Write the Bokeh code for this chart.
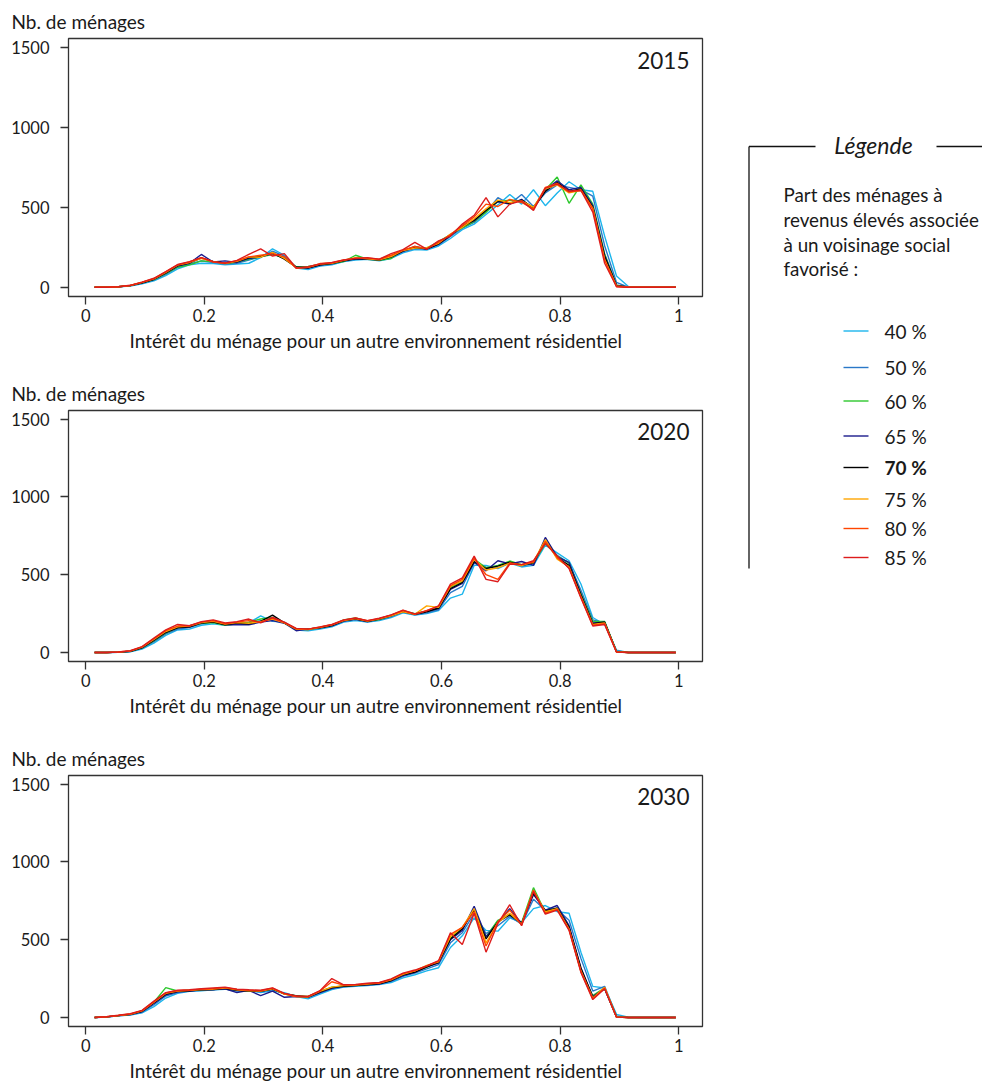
from bokeh.plotting import figure
from bokeh.layouts import row, column
from bokeh.models import Range1d, Title, Label, FixedTicker
from bokeh.core.properties import value
from bokeh.embed import file_html
from bokeh.resources import INLINE

FONT = "Lato"

# ---------------- data ----------------
x = [0.015, 0.035, 0.055, 0.075, 0.095, 0.115, 0.135, 0.155, 0.175, 0.195,
     0.215, 0.235, 0.255, 0.275, 0.295, 0.315, 0.335, 0.355, 0.375, 0.395,
     0.415, 0.435, 0.455, 0.475, 0.495, 0.515, 0.535, 0.555, 0.575, 0.595,
     0.615, 0.635, 0.655, 0.675, 0.695, 0.715, 0.735, 0.755, 0.775, 0.795,
     0.815, 0.835, 0.855, 0.875, 0.895, 0.915, 0.935, 0.955, 0.975, 0.995]

series_labels = ["40 %", "50 %", "60 %", "65 %", "70 %", "75 %", "80 %", "85 %"]
series_colors = ["#1CB5EC", "#2A78C8", "#2DC82D", "#1A1A8C", "#000000", "#FFA500", "#FF4500", "#DD1C1C"]

years = ["2015", "2020", "2030"]

# 2015
y2015_40 = [0,0,2,8,22,40,72,115,140,150, 148,140,145,150,185,240,200,120,110,132,
            140,160,170,175,165,180,215,235,232,258, 305,360,395,455,515,580,520,610,510,590,
            660,610,600,320,70,4,0,0,0,0]
y2015_50 = [0,0,2,9,25,45,80,125,145,165, 155,145,150,170,190,225,195,122,118,135,
            145,162,175,178,168,185,222,242,238,265, 318,370,405,470,560,520,580,505,590,640,
            625,610,570,260,30,0,0,0,0,0]
y2015_60 = [0,0,3,10,27,48,85,125,140,165, 160,148,158,175,190,205,185,128,130,142,
            150,160,200,175,168,180,232,250,245,285, 330,372,410,470,535,545,540,500,610,690,
            525,640,520,210,12,0,0,0,0,0]
y2015_65 = [0,0,3,10,28,50,88,132,150,205, 158,165,155,180,190,210,180,125,120,140,
            150,168,180,175,172,188,225,255,238,270, 322,385,415,485,535,520,550,490,610,665,
            610,625,510,200,12,0,0,0,0,0]
y2015_70 = [0,0,3,10,28,50,90,135,152,182, 162,150,160,185,192,215,175,125,122,140,
            148,165,178,180,170,190,228,248,240,272, 325,378,420,480,540,525,545,495,600,655,
            600,615,500,190,10,0,0,0,0,0]
y2015_75 = [0,0,3,11,30,52,93,138,155,180, 160,148,162,190,188,218,180,122,124,145,
            150,168,185,178,172,192,230,245,248,275, 332,375,428,490,545,530,540,500,615,640,
            590,605,495,175,8,0,0,0,0,0]
y2015_80 = [0,0,3,11,31,54,96,140,158,185, 158,152,165,190,200,210,190,118,125,148,
            152,170,182,182,175,200,232,255,240,280, 330,385,440,520,505,550,530,490,625,650,
            595,610,490,170,5,0,0,0,0,0]
y2015_85 = [0,0,3,12,32,56,98,142,160,185, 160,150,168,205,240,195,210,120,128,145,
            155,170,180,185,175,210,235,280,238,290, 320,395,450,560,440,520,540,480,620,645,
            600,605,470,150,3,0,0,0,0,0]

# 2020
y2020_40 = [0,0,1,5,22,60,110,145,150,175, 185,175,185,190,235,200,195,145,140,150,
            165,195,205,195,205,225,255,240,250,270, 350,375,560,560,540,575,550,560,690,640,
            590,440,225,180,15,0,0,0,0,0]
y2020_50 = [0,0,1,6,26,70,120,150,160,185, 198,178,188,190,205,210,192,148,145,155,
            170,200,210,198,210,230,260,242,255,275, 385,425,575,548,545,578,555,570,705,625,
            575,400,210,190,10,0,0,0,0,0]
y2020_60 = [0,0,2,7,28,75,125,158,170,188, 192,175,185,195,215,225,188,150,148,158,
            172,210,222,202,212,238,268,250,265,290, 420,455,600,545,560,588,565,575,700,620,
            575,380,200,200,6,0,0,0,0,0]
y2020_65 = [0,0,2,8,30,78,128,158,165,192, 198,178,180,178,195,205,188,140,152,158,
            172,202,218,198,218,240,262,248,265,282, 405,445,580,525,590,570,585,560,740,615,
            580,375,190,195,5,0,0,0,0,0]
y2020_70 = [0,0,2,8,32,80,130,160,165,190, 195,180,190,185,200,240,190,150,150,160,
            175,205,215,200,215,235,265,245,262,285, 410,450,585,540,555,580,560,578,720,610,
            560,370,185,195,5,0,0,0,0,0]
y2020_75 = [0,0,2,9,34,84,135,165,170,192, 200,182,192,188,198,215,190,150,148,162,
            178,205,218,202,216,236,262,246,300,290, 425,460,600,530,545,575,558,585,725,600,
            550,360,180,190,4,0,0,0,0,0]
y2020_80 = [0,0,3,10,36,88,140,170,172,195, 205,185,195,205,195,220,192,152,150,162,
            178,208,220,204,218,240,270,245,270,298, 430,470,605,500,470,575,565,580,715,610,
            545,355,175,185,3,0,0,0,0,0]
y2020_85 = [0,0,3,11,38,92,145,180,172,198, 210,190,198,215,190,225,195,155,150,165,
            180,210,222,205,220,242,272,248,268,300, 440,480,620,470,455,568,565,590,700,620,
            540,350,170,180,2,0,0,0,0,0]

# 2030
y2030_40 = [0,3,10,15,30,70,125,155,168,172, 178,182,172,175,160,170,160,135,120,150,
            180,195,200,205,212,225,255,275,300,320, 450,525,640,560,555,640,610,700,720,680,
            670,420,200,190,20,2,0,0,0,0]
y2030_50 = [0,3,11,17,34,82,138,160,170,175, 178,185,170,172,165,178,155,138,128,158,
            185,198,205,208,215,232,265,285,312,340, 480,545,670,540,590,650,600,760,690,695,
            625,380,170,200,10,0,0,0,0,0]
y2030_60 = [0,4,12,20,42,98,192,170,175,180, 182,190,178,172,172,185,150,140,135,168,
            195,202,208,215,220,240,278,295,322,360, 510,575,695,520,625,665,610,835,675,700,
            575,300,140,190,4,0,0,0,0,0]
y2030_65 = [0,4,12,19,38,90,145,165,170,178, 180,185,160,175,140,170,130,135,130,160,
            188,205,210,210,215,235,270,290,325,350, 500,560,715,520,610,700,605,790,690,720,
            590,320,135,185,4,0,0,0,0,0]
y2030_70 = [0,4,12,20,40,95,150,168,172,178, 180,188,175,170,168,182,152,138,132,165,
            192,200,205,212,218,238,275,292,325,355, 505,570,690,505,615,660,605,800,685,705,
            580,315,130,185,3,0,0,0,0,0]
y2030_75 = [0,4,13,21,42,98,155,170,175,180, 182,190,178,172,170,185,150,135,132,168,
            195,205,208,215,222,242,278,300,335,358, 520,580,700,480,610,670,600,815,680,700,
            570,300,125,195,3,0,0,0,0,0]
y2030_80 = [0,5,13,22,44,100,158,172,175,182, 185,192,180,175,172,188,152,135,135,170,
            230,208,210,218,222,245,282,300,330,362, 535,580,680,460,615,690,595,820,670,695,
            565,295,120,190,2,0,0,0,0,0]
y2030_85 = [0,5,14,24,46,105,160,175,178,185, 190,195,182,178,175,190,155,138,135,172,
            250,210,212,220,225,248,285,305,332,365, 545,470,670,420,605,725,590,810,665,690,
            560,290,115,185,2,0,0,0,0,0]

panels = {
    "2015": [y2015_40, y2015_50, y2015_60, y2015_65, y2015_70, y2015_75, y2015_80, y2015_85],
    "2020": [y2020_40, y2020_50, y2020_60, y2020_65, y2020_70, y2020_75, y2020_80, y2020_85],
    "2030": [y2030_40, y2030_50, y2030_60, y2030_65, y2030_70, y2030_75, y2030_80, y2030_85],
}

x_ticks = [0, 0.2, 0.4, 0.6, 0.8, 1]
x_tick_labels = ["0", "0.2", "0.4", "0.6", "0.8", "1"]
y_ticks = [0, 500, 1000, 1500]
y_tick_labels = ["0", "500", "1000", "1500"]

y_title = "Nb. de ménages"
x_title = "Intérêt du ménage pour un autre environnement résidentiel"
legend_title = "Légende"
legend_text = ["Part des ménages à", "revenus élevés associée", "à un voisinage social", "favorisé :"]

# ---------------- styling ----------------
TXT = "#1a1a1a"
TICK_FS = "16.5px"
TITLE_FS = "19px"


def make_panel(year, h, top, bottom):
    p = figure(width=740, height=h, x_range=Range1d(-0.029, 1.04), y_range=Range1d(-58, 1556),
               output_backend="svg", toolbar_location=None,
               min_border_left=68, min_border_right=38, min_border_top=top, min_border_bottom=bottom)
    p.outline_line_color = "#333333"
    p.outline_line_width = 1.3
    p.xgrid.grid_line_color = None
    p.ygrid.grid_line_color = None
    p.background_fill_color = "white"
    p.border_fill_color = "white"

    for ax in (p.xaxis[0], p.yaxis[0]):
        ax.axis_line_color = None
        ax.major_tick_line_color = "#333333"
        ax.major_tick_line_width = 1.3
        ax.major_tick_in = 0
        ax.major_tick_out = 8
        ax.minor_tick_line_color = None
        ax.major_label_text_font = FONT
        ax.major_label_text_font_size = TICK_FS
        ax.major_label_text_color = TXT
    p.xaxis[0].ticker = FixedTicker(ticks=x_ticks)
    p.xaxis[0].major_label_overrides = {t: l for t, l in zip(x_ticks, x_tick_labels)}
    p.xaxis[0].major_label_standoff = 4
    p.yaxis[0].ticker = FixedTicker(ticks=y_ticks)
    p.yaxis[0].major_label_overrides = {t: l for t, l in zip(y_ticks, y_tick_labels)}
    p.yaxis[0].major_label_standoff = 11
    p.yaxis[0].major_label_orientation = "horizontal"

    for ys, col in zip(panels[year], series_colors):
        p.line(x, ys, line_color=col, line_width=1.4)

    p.add_layout(Label(x=1.018, y=1420, text=year, text_align="right", text_baseline="middle",
                       text_font=FONT, text_font_size="22.5px", text_color=TXT))

    p.add_layout(Title(text=y_title, align="left", offset=-57, standoff=12,
                       text_font=FONT, text_font_size=TITLE_FS, text_font_style="normal",
                       text_color=TXT), "above")
    p.add_layout(Title(text=x_title, align="left", offset=61, standoff=4,
                       text_font=FONT, text_font_size=TITLE_FS, text_font_style="normal",
                       text_color=TXT), "below")
    return p


p1 = make_panel("2015", 373, 38, 77)
p2 = make_panel("2020", 365, 30, 77)
p3 = make_panel("2030", 346, 30, 58)

# ---------------- legend panel (page-pixel coordinates) ----------------
leg = figure(width=242, height=600, x_range=Range1d(740, 982), y_range=Range1d(600, 0),
             output_backend="svg", toolbar_location=None, min_border=0,
             x_axis_type=None, y_axis_type=None)
leg.outline_line_color = None
leg.grid.visible = False

frame_col = "#111111"
leg.line([748.5, 815], [146, 146], line_color=frame_col, line_width=1.3)
leg.line([936, 982], [146, 146], line_color=frame_col, line_width=1.3)
leg.line([748.5, 748.5], [146, 568], line_color=frame_col, line_width=1.3)

leg.text(x=[873], y=[144], text=[legend_title], text_align="center", text_baseline="middle",
         text_font=value(FONT), text_font_size="23px", text_font_style="italic", text_color=TXT)

para_y = [194, 219, 244, 268]
leg.text(x=[783] * len(legend_text), y=para_y, text=legend_text, text_align="left",
         text_baseline="middle", text_font=value(FONT), text_font_size="18.8px", text_color=TXT)

entry_y = [330.5, 367, 400.5, 435.5, 467, 498.5, 528, 557]
for lab, col, yy in zip(series_labels, series_colors, entry_y):
    leg.line([843, 868], [yy, yy], line_color=col, line_width=1.4)
    leg.text(x=[884], y=[yy], text=[lab], text_align="left", text_baseline="middle",
             text_font=value(FONT), text_font_size="19px", text_color=TXT,
             text_font_style="bold" if lab == "70 %" else "normal")

layout = row(column(p1, p2, p3), leg)

open("out.html", "w").write(file_html(layout, INLINE))
